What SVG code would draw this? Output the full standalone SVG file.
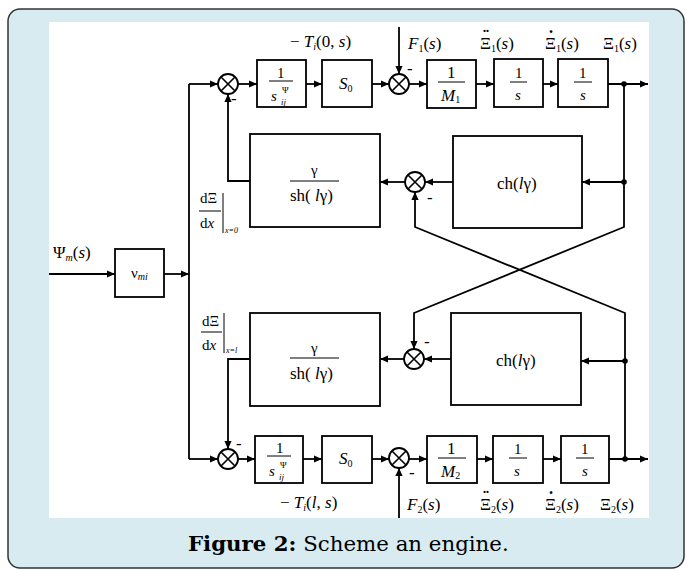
<svg xmlns="http://www.w3.org/2000/svg" width="686" height="571" viewBox="0 0 686 571">
<style>
.frame{fill:#d7ebf1;stroke:#333;stroke-width:1.5}
.blk rect{fill:#fff;stroke:#000;stroke-width:1.8}
.sum circle{fill:#fff;stroke:#000;stroke-width:1.8}
.sum path{stroke:#000;stroke-width:1.6;fill:none}
.ln{fill:none;stroke:#000;stroke-width:1.8}
.bar{stroke:#000;stroke-width:1}
text{font-family:"Liberation Serif","Times New Roman",serif;fill:#000}
.t{font-size:17px}
.sm{font-size:15px}
.i{font-style:italic}
.acc{text-anchor:middle;font-size:18px;font-weight:bold}
.cap{font-family:"DejaVu Serif","Liberation Serif",serif;font-size:21.3px}
</style>
<defs>
<marker id="ah" viewBox="0 0 10 10" refX="10" refY="5" markerWidth="9" markerHeight="8" markerUnits="userSpaceOnUse" orient="auto"><path d="M0,0.5L10,5L0,9.5z" fill="#000"/></marker>
</defs>
<rect class="frame" x="8" y="9" width="676" height="559" rx="12"/>
<rect x="49" y="22" width="600" height="496" fill="#fff"/>

<g id="connectors">
<path class="ln" d="M49,274H115" marker-end="url(#ah)"/>
<path class="ln" d="M164,274H189" marker-end="url(#ah)"/>
<path class="ln" d="M189,84V459"/>
<path class="ln" d="M189,84H218" marker-end="url(#ah)"/>
<path class="ln" d="M238,84H257" marker-end="url(#ah)"/>
<path class="ln" d="M306,84H322" marker-end="url(#ah)"/>
<path class="ln" d="M372,84H389" marker-end="url(#ah)"/>
<path class="ln" d="M399,27V74" marker-end="url(#ah)"/>
<path class="ln" d="M409,84H427" marker-end="url(#ah)"/>
<path class="ln" d="M476,84H494" marker-end="url(#ah)"/>
<path class="ln" d="M543,84H558" marker-end="url(#ah)"/>
<path class="ln" d="M608,84H648" marker-end="url(#ah)"/>
<circle cx="624" cy="84" r="2.8"/>
<path class="ln" d="M624,84V227L414,313V349" marker-end="url(#ah)"/>
<circle cx="624" cy="182" r="2.8"/>
<path class="ln" d="M624,182H582" marker-end="url(#ah)"/>
<path class="ln" d="M453,182H425" marker-end="url(#ah)"/>
<path class="ln" d="M405,182H380" marker-end="url(#ah)"/>
<path class="ln" d="M250,181H228V94" marker-end="url(#ah)"/>
<path class="ln" d="M625,459V313L415,227V192" marker-end="url(#ah)"/>
<circle cx="625" cy="361" r="2.8"/>
<path class="ln" d="M625,361H581" marker-end="url(#ah)"/>
<path class="ln" d="M451,359H424" marker-end="url(#ah)"/>
<path class="ln" d="M404,359H380" marker-end="url(#ah)"/>
<path class="ln" d="M250,359H228V449" marker-end="url(#ah)"/>
<path class="ln" d="M189,459H218" marker-end="url(#ah)"/>
<path class="ln" d="M238,459H255" marker-end="url(#ah)"/>
<path class="ln" d="M303,459H322" marker-end="url(#ah)"/>
<path class="ln" d="M372,459H389" marker-end="url(#ah)"/>
<path class="ln" d="M399,518V468" marker-end="url(#ah)"/>
<path class="ln" d="M409,459H427" marker-end="url(#ah)"/>
<path class="ln" d="M477,459H493" marker-end="url(#ah)"/>
<path class="ln" d="M543,459H561" marker-end="url(#ah)"/>
<path class="ln" d="M609,459H648" marker-end="url(#ah)"/>
<circle cx="625" cy="459" r="2.8"/>
</g>

<g id="sum1" class="sum" transform="translate(228,84)"><circle r="10"/><path d="M-7,-7L7,7M7,-7L-7,7"/></g>
<g id="sum2" class="sum" transform="translate(399,84)"><circle r="10"/><path d="M-7,-7L7,7M7,-7L-7,7"/></g>
<g id="sum3" class="sum" transform="translate(415,182)"><circle r="10"/><path d="M-7,-7L7,7M7,-7L-7,7"/></g>
<g id="sum4" class="sum" transform="translate(414,359)"><circle r="10"/><path d="M-7,-7L7,7M7,-7L-7,7"/></g>
<g id="sum5" class="sum" transform="translate(228,459)"><circle r="10"/><path d="M-7,-7L7,7M7,-7L-7,7"/></g>
<g id="sum6" class="sum" transform="translate(399,458)"><circle r="10"/><path d="M-7,-7L7,7M7,-7L-7,7"/></g>
<g id="minus" class="t">
<text x="231" y="104">-</text>
<text x="407" y="74">-</text>
<text x="427" y="203">-</text>
<text x="424" y="347">-</text>
<text x="236" y="449">-</text>
<text x="409" y="478">-</text>
</g>

<g id="nu" class="blk"><rect x="115" y="249" width="49" height="48"/>
<text class="sm" x="131" y="278">ν<tspan class="i" font-size="10" dy="2">mi</tspan></text></g>
<g id="psi"><text class="t" x="53" y="258">Ψ<tspan class="i" font-size="10" dy="3">m</tspan><tspan dy="-3">(</tspan><tspan class="i">s</tspan>)</text></g>

<g id="sij1" class="blk"><rect x="257" y="60" width="49" height="47"/>
<text class="sm" x="277" y="78">1</text><line class="bar" x1="269" y1="81" x2="293" y2="81"/>
<text class="sm i" x="271" y="101">s</text><text class="i" font-size="9" x="281" y="105">ij</text><text font-size="9" x="282" y="93">Ψ</text></g>
<g id="s0a" class="blk"><rect x="322" y="60" width="50" height="47"/>
<text class="t i" x="339" y="89">S<tspan font-style="normal" font-size="10" dy="3">0</tspan></text></g>
<g id="m1" class="blk"><rect x="427" y="60" width="49" height="48"/>
<text class="t" x="447" y="78">1</text><line class="bar" x1="438" y1="82" x2="465" y2="82"/>
<text class="t i" x="441" y="101">M<tspan font-style="normal" font-size="10" dy="2">1</tspan></text></g>
<g id="int1a" class="blk"><rect x="494" y="59" width="49" height="48"/>
<text class="sm" x="515" y="78">1</text><line class="bar" x1="510" y1="82" x2="527" y2="82"/>
<text class="sm i" x="515" y="100">s</text></g>
<g id="int1b" class="blk"><rect x="558" y="59" width="50" height="48"/>
<text class="sm" x="579" y="78">1</text><line class="bar" x1="574" y1="82" x2="592" y2="82"/>
<text class="sm i" x="580" y="100">s</text></g>

<g id="gsh1" class="blk"><rect x="250" y="134" width="130" height="93"/>
<text class="sm" x="311" y="175">γ</text><line class="bar" x1="290" y1="181" x2="339" y2="181"/>
<text class="t" x="290" y="201">sh( <tspan class="i">l</tspan>γ)</text></g>
<g id="ch1" class="blk"><rect x="453" y="136" width="129" height="92"/>
<text class="t" x="497" y="189">ch(<tspan class="i">l</tspan>γ)</text></g>
<g id="gsh2" class="blk"><rect x="250" y="313" width="130" height="93"/>
<text class="sm" x="311" y="353">γ</text><line class="bar" x1="290" y1="358" x2="339" y2="358"/>
<text class="t" x="290" y="379">sh( <tspan class="i">l</tspan>γ)</text></g>
<g id="ch2" class="blk"><rect x="451" y="313" width="130" height="92"/>
<text class="t" x="496" y="366">ch(<tspan class="i">l</tspan>γ)</text></g>

<g id="sij2" class="blk"><rect x="255" y="436" width="48" height="47"/>
<text class="sm" x="276" y="453">1</text><line class="bar" x1="267" y1="456" x2="291" y2="456"/>
<text class="sm i" x="269" y="476">s</text><text class="i" font-size="9" x="279" y="480">ij</text><text font-size="9" x="280" y="468">Ψ</text></g>
<g id="s0b" class="blk"><rect x="322" y="436" width="50" height="47"/>
<text class="t i" x="339" y="464">S<tspan font-style="normal" font-size="10" dy="3">0</tspan></text></g>
<g id="m2" class="blk"><rect x="427" y="436" width="50" height="47"/>
<text class="t" x="447" y="454">1</text><line class="bar" x1="438" y1="458" x2="466" y2="458"/>
<text class="t i" x="441" y="477">M<tspan font-style="normal" font-size="10" dy="2">2</tspan></text></g>
<g id="int2a" class="blk"><rect x="493" y="436" width="50" height="47"/>
<text class="sm" x="514" y="454">1</text><line class="bar" x1="509" y1="458" x2="527" y2="458"/>
<text class="sm i" x="514" y="476">s</text></g>
<g id="int2b" class="blk"><rect x="561" y="436" width="48" height="47"/>
<text class="sm" x="581" y="454">1</text><line class="bar" x1="576" y1="458" x2="594" y2="458"/>
<text class="sm i" x="582" y="476">s</text></g>

<g id="labels" class="t">
<text x="290" y="47">− <tspan class="i">T</tspan><tspan class="i" font-size="10" dy="3">i</tspan><tspan dy="-3">(0, </tspan><tspan class="i">s</tspan>)</text>
<text x="408" y="49"><tspan class="i">F</tspan><tspan font-size="10" dy="3">1</tspan><tspan dy="-3">(</tspan><tspan class="i">s</tspan>)</text>
<text x="480" y="49">Ξ<tspan font-size="10" dy="3">1</tspan><tspan dy="-3">(</tspan><tspan class="i">s</tspan>)</text>
<text class="acc" x="486" y="43">¨</text>
<text x="545" y="49">Ξ<tspan font-size="10" dy="3">1</tspan><tspan dy="-3">(</tspan><tspan class="i">s</tspan>)</text>
<text class="acc" x="551" y="43">˙</text>
<text x="603" y="49">Ξ<tspan font-size="10" dy="3">1</tspan><tspan dy="-3">(</tspan><tspan class="i">s</tspan>)</text>
<text x="280" y="508">− <tspan class="i">T</tspan><tspan class="i" font-size="10" dy="3">i</tspan><tspan dy="-3">(</tspan><tspan class="i">l</tspan>, <tspan class="i">s</tspan>)</text>
<text x="407" y="510"><tspan class="i">F</tspan><tspan font-size="10" dy="3">2</tspan><tspan dy="-3">(</tspan><tspan class="i">s</tspan>)</text>
<text x="480" y="510">Ξ<tspan font-size="10" dy="3">2</tspan><tspan dy="-3">(</tspan><tspan class="i">s</tspan>)</text>
<text class="acc" x="486" y="504">¨</text>
<text x="545" y="510">Ξ<tspan font-size="10" dy="3">2</tspan><tspan dy="-3">(</tspan><tspan class="i">s</tspan>)</text>
<text class="acc" x="551" y="504">˙</text>
<text x="600" y="510">Ξ<tspan font-size="10" dy="3">2</tspan><tspan dy="-3">(</tspan><tspan class="i">s</tspan>)</text>
</g>
<g id="deriv0">
<text class="sm" x="200" y="203">dΞ</text><line class="bar" x1="199" y1="211" x2="221" y2="211"/>
<text class="sm" x="200" y="228">d<tspan class="i">x</tspan></text>
<line class="bar" x1="223" y1="193" x2="223" y2="233"/>
<text class="i" font-size="8" x="225" y="233">x=0</text>
</g>
<g id="derivl">
<text class="sm" x="202" y="326">dΞ</text><line class="bar" x1="201" y1="332" x2="222" y2="332"/>
<text class="sm" x="202" y="350">d<tspan class="i">x</tspan></text>
<line class="bar" x1="224" y1="313" x2="224" y2="353"/>
<text class="i" font-size="8" x="226" y="353">x=l</text>
</g>

<g id="caption"><text class="cap" x="188" y="551"><tspan font-weight="bold">Figure 2:</tspan> Scheme an engine.</text></g>
</svg>
